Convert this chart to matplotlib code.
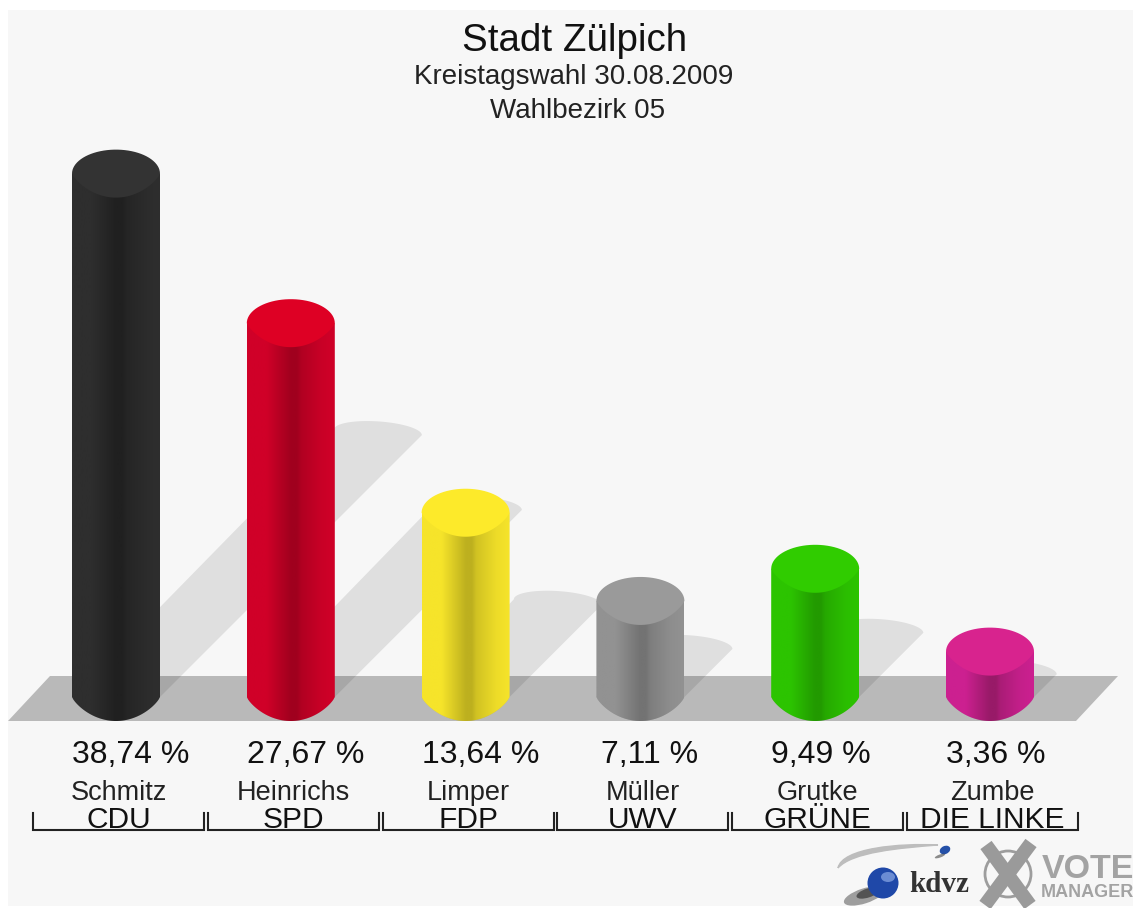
import numpy as np
import matplotlib
matplotlib.use("Agg")
import matplotlib.pyplot as plt
from matplotlib.patches import Polygon, Rectangle, Ellipse, PathPatch, Circle
from matplotlib.path import Path
from matplotlib.colors import LinearSegmentedColormap, to_rgb

candidates = ["Schmitz", "Heinrichs", "Limper", "Müller", "Grutke", "Zumbe"]
parties = ["CDU", "SPD", "FDP", "UWV", "GRÜNE", "DIE LINKE"]
values = [38.74, 27.67, 13.64, 7.11, 9.49, 3.36]
value_labels = ["38,74 %", "27,67 %", "13,64 %", "7,11 %", "9,49 %", "3,36 %"]

top_colors = ["#333333", "#de0024", "#fdea2a", "#9a9a9a", "#30cc00", "#d8238e"]
side_colors = ["#2e2e2e", "#d00028", "#f6e42a", "#929292", "#2cc400", "#cc2090"]
dark_colors = ["#202020", "#a0001e", "#bdb01f", "#737373", "#229a00", "#981a68"]
label_shift_px = [15, 15, 15, 9, 6, 6]

W, H = 1133, 908
PX_X, PX_Y = 174.8, 13.51      # pixels per category / per percent
X0, Y0 = 116, 697              # pixel position of the first bar's base centre
HALF_W = 44 / PX_X
HALF_H = 24 / PX_Y

plt.rcParams["font.family"] = ["Liberation Sans", "DejaVu Sans"]
fig = plt.figure(figsize=(W / 100, H / 100), dpi=100, facecolor="white")
ax = fig.add_axes([0, 0, 1, 1])
ax.axis("off")
xlim = (-X0 / PX_X, (W - X0) / PX_X)
ylim = (-(H - Y0) / PX_Y, Y0 / PX_Y)


def px(x, y):
    return ((x - X0) / PX_X, (Y0 - y) / PX_Y)


def lower_profile(n=61):
    """Lower rim of a cylinder face, a little flatter at the sides than an ellipse."""
    u = np.linspace(-1, 1, n)
    return u, -(1 - u ** 2) ** 0.8


ax.add_patch(Rectangle(px(8, 906), (W - 8) / PX_X, 896 / PX_Y, fc="#f7f7f7", ec="none", zorder=0))
ax.add_patch(Polygon([px(8, 721), px(50, 676), px(1118, 676), px(1076, 721)],
                     fc="#b9b9b9", ec="none", zorder=1))

u, low = lower_profile()
for i, v in enumerate(values):
    # shadow: runs from the base up and to the right
    dx, dy = v * 6.76 / PX_X, v * 6.76 / PX_Y
    sh = 11 / PX_Y
    a = np.linspace(0, np.pi, 40)
    upper = np.c_[i + dx + HALF_W * np.cos(a), dy + sh * np.sin(a) + 0.25 * sh * (1 - np.cos(a))]
    lower = np.c_[i + HALF_W * u, HALF_H * low]
    ax.add_patch(Polygon(np.r_[upper, lower], fc="black", alpha=0.095, ec="none", zorder=2))

    # cylinder body with horizontal gradient
    xs = np.r_[i + HALF_W * u, i + HALF_W, i - HALF_W]
    ys = np.r_[HALF_H * low, v, v]
    body = Polygon(np.c_[xs, ys], closed=True, transform=ax.transData, fc="none", ec="none")
    ax.add_patch(body)
    s, d = np.array(to_rgb(side_colors[i])), np.array(to_rgb(dark_colors[i]))
    cmap = LinearSegmentedColormap.from_list(
        "c", [(0, s), (0.22, s), (0.5, d), (0.57, d), (0.62, 0.65 * d + 0.35 * s),
              (0.85, 0.15 * d + 0.85 * s), (1, s)])
    im = ax.imshow(np.linspace(0, 1, 128)[None, :], cmap=cmap, aspect="auto", zorder=3,
                   extent=(i - HALF_W, i + HALF_W, -HALF_H, v), interpolation="bilinear")
    im.set_clip_path(body)

    # top face
    a = np.linspace(np.pi, 0, 40)
    face = np.r_[np.c_[i + HALF_W * np.cos(a), v + HALF_H * np.sin(a)],
                 np.c_[i + HALF_W * u[::-1], v + HALF_H * low[::-1]]]
    ax.add_patch(Polygon(face, fc=top_colors[i], ec="none", zorder=4))

    # labels
    ax.annotate(value_labels[i], px(X0 + i * PX_X, 763), xytext=(label_shift_px[i] * 0.72, 0),
                textcoords="offset points", ha="center", va="baseline", fontsize=23, color="#111111",
                zorder=6)
    lab_x = i + 2.5 / PX_X
    ax.text(lab_x, px(0, 800)[1], candidates[i], ha="center", va="baseline", fontsize=19.5,
            color="#222222", zorder=6)
    ax.text(lab_x, px(0, 828)[1], parties[i], ha="center", va="baseline", fontsize=21.5,
            color="#111111", zorder=6)
    bx = 85.5 / PX_X
    ax.plot([lab_x - bx, lab_x - bx, lab_x + bx, lab_x + bx],
            [px(0, 813)[1], px(0, 830)[1], px(0, 830)[1], px(0, 813)[1]],
            color="#222222", lw=1.5, solid_joinstyle="miter", zorder=6)

# titles
ax.text(*px(575, 51), "Stadt Zülpich", ha="center", va="baseline", fontsize=27.7, color="#111111")
ax.text(*px(574, 84), "Kreistagswahl 30.08.2009", ha="center", va="baseline", fontsize=20, color="#222222")
ax.text(*px(578, 118), "Wahlbezirk 05", ha="center", va="baseline", fontsize=20, color="#222222")

ax.set_xlim(*xlim)
ax.set_ylim(*ylim)

# logo overlay in pixel space
lg = fig.add_axes([0, 0, 1, 1], facecolor="none")
lg.axis("off")
lg.set_xlim(0, W)
lg.set_ylim(H, 0)
lg.add_patch(PathPatch(Path([(838, 868), (842, 848), (900, 843), (938, 845),
                             (900, 848), (852, 852), (838, 868)],
                            [Path.MOVETO, Path.CURVE4, Path.CURVE4, Path.CURVE4,
                             Path.CURVE4, Path.CURVE4, Path.CURVE4]),
                       fc="#bdbdbd", ec="#bdbdbd", lw=1))
lg.add_patch(Ellipse((864, 896), 42, 15, angle=-18, fc="#555555", ec="none", alpha=0.55))
lg.add_patch(Ellipse((868, 893), 24, 9, angle=-18, fc="#222222", ec="none", alpha=0.6))
lg.add_patch(Circle((883, 883), 15.5, fc="#1f48a8", ec="none"))
lg.add_patch(Ellipse((888, 877), 14, 10, fc="#7f9ede", ec="none", alpha=0.8))
lg.add_patch(Ellipse((945, 850), 11, 8, angle=-25, fc="#2450a8", ec="none"))
lg.add_patch(Ellipse((940, 856), 11, 3, angle=-20, fc="#444444", ec="none", alpha=0.6))
lg.text(939, 892, "kdvz", ha="center", va="baseline", fontsize=21, fontweight="bold",
        family="Liberation Serif", color="#333333")
lg.add_patch(Circle((1008, 874), 23, fc="none", ec="#9d9d9d", lw=2))
lg.plot([985, 1031], [905, 843], color="#9a9a9a", lw=10, solid_capstyle="butt")
lg.plot([986, 1030], [845, 905], color="#9a9a9a", lw=10, solid_capstyle="butt")
lg.text(1042, 878, "VOTE", ha="left", va="baseline", fontsize=24.5, fontweight="bold", color="#a3a3a3")
lg.text(1041, 897, "MANAGER", ha="left", va="baseline", fontsize=13, fontweight="bold", color="#a3a3a3")

fig.savefig("out.png", dpi=100, facecolor="white")
